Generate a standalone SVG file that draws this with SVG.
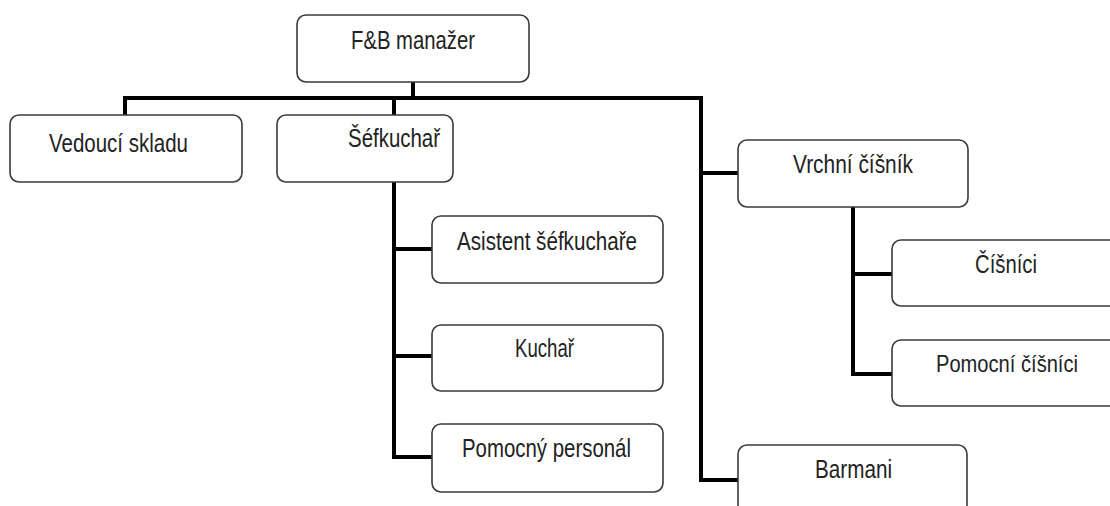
<svg xmlns="http://www.w3.org/2000/svg" width="1110" height="506" viewBox="0 0 1110 506">
<style>
.box{fill:#fff;stroke:#3a3a3a;stroke-width:1.6}
.lbl{font-family:"Liberation Sans",Arial,sans-serif;font-size:26px;fill:#222}
.con{fill:none;stroke:#000;stroke-width:4;stroke-linecap:square;stroke-linejoin:miter}
</style>
<rect width="1110" height="506" fill="#fff"/>
<g id="connectors">
<path class="con" d="M413,82 V98 M125,115 V98 H701 V480 H738 M394,98 V115 M701,173 H738"/>
<path class="con" d="M394,182 V457 H432 M394,249 H432 M394,356 H432"/>
<path class="con" d="M853,207 V374 H892 M853,274 H892"/>
</g>
<g id="n-fb"><rect class="box" x="297" y="15" width="232" height="67" rx="9"/><text class="lbl" x="351" y="49" textLength="124" lengthAdjust="spacingAndGlyphs">F&amp;B manažer</text></g>
<g id="n-vedouci"><rect class="box" x="10" y="115" width="232" height="67" rx="9"/><text class="lbl" x="49" y="152" textLength="139" lengthAdjust="spacingAndGlyphs">Vedoucí skladu</text></g>
<g id="n-sef"><rect class="box" x="277" y="115" width="176" height="67" rx="9"/><text class="lbl" x="348" y="147" textLength="92" lengthAdjust="spacingAndGlyphs">Šéfkuchař</text></g>
<g id="n-asistent"><rect class="box" x="432" y="216" width="231" height="67" rx="9"/><text class="lbl" x="457" y="250" textLength="180" lengthAdjust="spacingAndGlyphs">Asistent šéfkuchaře</text></g>
<g id="n-kuchar"><rect class="box" x="432" y="325" width="231" height="66" rx="9"/><text class="lbl" x="515" y="357" textLength="59" lengthAdjust="spacingAndGlyphs">Kuchař</text></g>
<g id="n-pomocny"><rect class="box" x="432" y="424" width="231" height="68" rx="9"/><text class="lbl" x="462" y="457" textLength="169" lengthAdjust="spacingAndGlyphs">Pomocný personál</text></g>
<g id="n-vrchni"><rect class="box" x="738" y="140" width="230" height="67" rx="9"/><text class="lbl" x="793" y="173" textLength="120" lengthAdjust="spacingAndGlyphs">Vrchní číšník</text></g>
<g id="n-cisnici"><path class="box" d="M1110,240 H901 A9,9 0 0 0 892,249 V297 A9,9 0 0 0 901,306 H1110"/><text class="lbl" x="975" y="273" textLength="62" lengthAdjust="spacingAndGlyphs">Číšníci</text></g>
<g id="n-pomocni"><path class="box" d="M1110,340 H901 A9,9 0 0 0 892,349 V397 A9,9 0 0 0 901,406 H1110"/><text class="lbl" x="936" y="372" style="font-size:24px" textLength="142" lengthAdjust="spacingAndGlyphs">Pomocní číšníci</text></g>
<g id="n-barmani"><path class="box" d="M738,506 V454 A9,9 0 0 1 747,445 H958 A9,9 0 0 1 967,454 V506"/><text class="lbl" x="815" y="478" textLength="77" lengthAdjust="spacingAndGlyphs">Barmani</text></g>
</svg>
